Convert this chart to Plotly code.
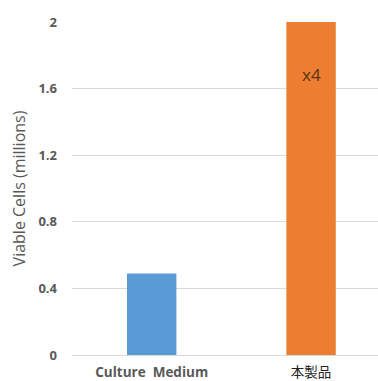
import plotly.graph_objects as go

categories = ["Culture  Medium", "本製品"]
values = [0.49, 2.0]
bar_colors = ["#5B9BD5", "#ED7D31"]
ratio_label = "x4"
y_ticks = [0, 0.4, 0.8, 1.2, 1.6, 2]
y_tick_labels = ["0", "0.4", "0.8", "1.2", "1.6", "2"]

fig = go.Figure(go.Bar(
    x=[0, 1], y=values, marker=dict(color=bar_colors, line=dict(width=0)),
    width=0.31,
))
fig.add_annotation(x=1, y=values[1], text=ratio_label, showarrow=False,
                   yanchor="middle", yshift=-52,
                   font=dict(size=17, color="#5a3418", family="Open Sans"))

fig.update_layout(
    width=378, height=381,
    margin=dict(l=72, r=0, t=22, b=26),
    paper_bgcolor="white", plot_bgcolor="white",
    showlegend=False,
    font=dict(family="Open Sans", color="#595959"),
    xaxis=dict(range=[-0.5, 1.42], tickvals=[0, 1],
               ticktext=["<b>Culture  Medium</b>", "<span style='color:#222'>本製品</span>"],
               tickfont=dict(size=13.5, family="Open Sans, Noto Sans CJK JP"),
               showgrid=False, zeroline=False, showline=False, ticks="", ticklen=0,
               ticklabelstandoff=7, automargin=False),
    yaxis=dict(range=[0, 2], tickvals=y_ticks, ticktext=["<b>%s</b>" % t for t in y_tick_labels],
               tickfont=dict(size=13, color="#595959"),
               showgrid=True, gridcolor="#d9d9d9", gridwidth=1,
               zeroline=True, zerolinecolor="#d9d9d9", zerolinewidth=1,
               ticks="", ticklabelstandoff=14, automargin=False,
               title=dict(text="Viable Cells (millions)", font=dict(size=16, color="#595959"), standoff=8)),
)
fig.write_html("out.html")
